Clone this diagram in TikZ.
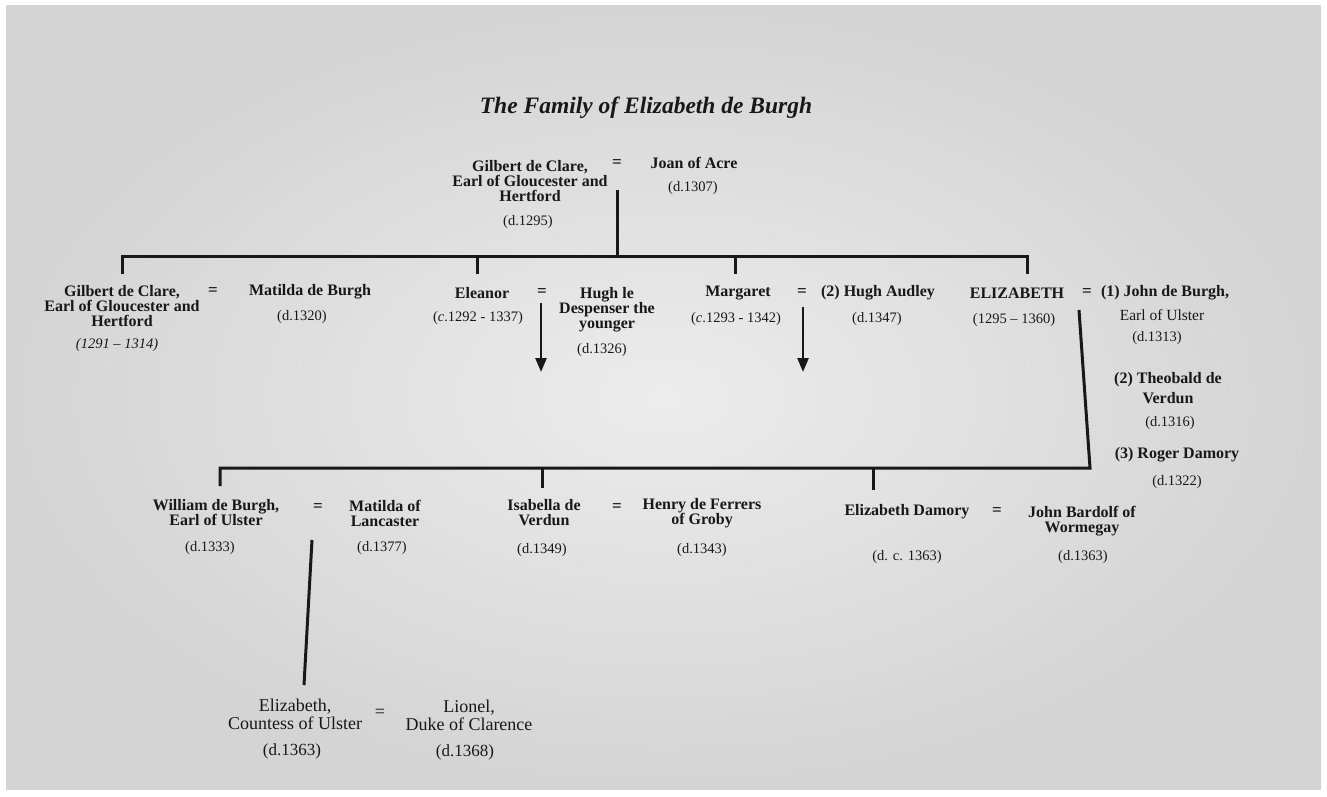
\documentclass[tikz,border=0pt]{standalone}
\usepackage{fontspec}
\setmainfont{Liberation Serif}
\usetikzlibrary{arrows.meta}
\definecolor{ink}{RGB}{24,24,24}
\definecolor{pagelight}{RGB}{236,236,236}
\definecolor{pagedark}{RGB}{212,212,212}
\begin{document}
\begin{tikzpicture}[x=1pt,y=-1pt,
  every node/.style={inner sep=0pt,text=ink,align=center},
  ttl/.style={font=\bfseries\itshape\fontsize{23.5}{23.5}\selectfont},
  nm/.style={font=\bfseries\fontsize{16}{15}\selectfont},
  sub/.style={font=\fontsize{15.5}{15}\selectfont},
  dt/.style={font=\fontsize{14.5}{15}\selectfont},
  eqs/.style={font=\bfseries\fontsize{17}{17}\selectfont},
  big/.style={font=\fontsize{18}{18}\selectfont},
  bigdt/.style={font=\fontsize{17}{17}\selectfont},
  ln/.style={draw=ink,line width=3pt},
  arr/.style={draw=ink,line width=2.6pt,-{Triangle[width=11pt,length=14pt]}}
]
\useasboundingbox (0,0) rectangle (1327,796);
\fill[white] (0,0) rectangle (1327,796);
\shade[inner color=pagelight,outer color=pagedark] (6,5) rectangle (1321,789);

% title
\node[ttl] (title) at (646,108) {The Family of Elizabeth de Burgh};

% generation 1
\node[nm] (gilbertA) at (530,181) {Gilbert de Clare,\\Earl of Gloucester and\\Hertford};
\node[dt] (gilbertAd) at (528,222) {(d.1295)};
\node[eqs] (eqA) at (617,164) {=};
\node[nm] (joan) at (694,163) {Joan of Acre};
\node[dt] (joand) at (693,188) {(d.1307)};

% generation 2
\node[nm] (gilbertB) at (122,306) {Gilbert de Clare,\\Earl of Gloucester and\\Hertford};
\node[dt] (gilbertBd) at (117,345) {\itshape (1291 – 1314)};
\node[eqs] (eqB) at (213,292) {=};
\node[nm] (matildaB) at (310,292) {Matilda de Burgh};
\node[dt] (matildaBd) at (302,317) {(d.1320)};

\node[nm] (eleanor) at (482,293) {Eleanor};
\node[dt] (eleanord) at (478,318) {(\textit{c}.1292 - 1337)};
\node[eqs] (eqC) at (542,293) {=};
\node[nm] (hugh) at (607,310) {Hugh le\\Despenser the\\younger};
\node[dt] (hughd) at (602,350) {(d.1326)};

\node[nm] (margaret) at (738,293) {Margaret};
\node[dt] (margaretd) at (736,319) {(\textit{c}.1293 - 1342)};
\node[eqs] (eqD) at (802,293) {=};
\node[nm] (audley) at (878,293) {(2) Hugh Audley};
\node[dt] (audleyd) at (877,319) {(d.1347)};

\node[nm] (eliz) at (1017,293) {ELIZABETH};
\node[dt] (elizd) at (1014,320) {(1295 – 1360)};
\node[eqs] (eqE) at (1087,293) {=};
\node[nm] (john) at (1165,293) {(1) John de Burgh,};
\node[sub] (johnt) at (1162,315) {Earl of Ulster};
\node[dt] (johnd) at (1157,338) {(d.1313)};
\node[nm] (theobald) at (1168,388) {(2) Theobald de\\[5pt]Verdun};
\node[dt] (theobaldd) at (1170,423) {(d.1316)};
\node[nm] (roger) at (1177,455) {(3) Roger Damory};
\node[dt] (rogerd) at (1177,482) {(d.1322)};

% generation 3
\node[nm] (william) at (216,513) {William de Burgh,\\Earl of Ulster};
\node[dt] (williamd) at (210,548) {(d.1333)};
\node[eqs] (eqF) at (318,508) {=};
\node[nm] (matildaL) at (385,513) {Matilda of\\Lancaster};
\node[dt] (matildaLd) at (382,548) {(d.1377)};

\node[nm] (isabella) at (544,513) {Isabella de\\Verdun};
\node[dt] (isabellad) at (542,550) {(d.1349)};
\node[eqs] (eqG) at (617,508) {=};
\node[nm] (henry) at (702,513) {Henry de Ferrers\\of Groby};
\node[dt] (henryd) at (702,550) {(d.1343)};

\node[nm] (edamory) at (907,512) {Elizabeth Damory};
\node[dt] (edamoryd) at (907,557) {(d. c. 1363)};
\node[eqs] (eqH) at (997,512) {=};
\node[nm] (bardolf) at (1082,521) {John Bardolf of\\Wormegay};
\node[dt] (bardolfd) at (1083,557) {(d.1363)};

% generation 4
\node[big] (countess) at (295,714) {Elizabeth,\\Countess of Ulster};
\node[bigdt] (countessd) at (292,751) {(d.1363)};
\node[big] (eqI) at (380,713) {=};
\node[big] (lionel) at (469,715) {Lionel,\\Duke of Clarence};
\node[bigdt] (lioneld) at (465,752) {(d.1368)};

% connector coordinates
\coordinate (topdrop) at (617,190);
\coordinate (bar1) at (617,256);
\coordinate (k1) at (122,274);
\coordinate (k2) at (477,274);
\coordinate (k3) at (735,274);
\coordinate (k4) at (1027,274);

\coordinate (elizdrop) at (1079,310);
\coordinate (bar2) at (1090,468);
\coordinate (s1) at (220,486);
\coordinate (s2) at (542,488);
\coordinate (s3) at (873,490);

\coordinate (a1s) at (541,303);
\coordinate (a1e) at (541,372);
\coordinate (a2s) at (803,307);
\coordinate (a2e) at (803,372);

\coordinate (wtop) at (312,540);
\coordinate (wbot) at (304,685);

% connectors
\draw[ln] (topdrop) -- (bar1);
\draw[ln] (k1) |- (bar1) -| (k4);
\draw[ln] (k2) -- (k2 |- bar1);
\draw[ln] (k3) -- (k3 |- bar1);

\draw[ln] (elizdrop) -- (bar2) -| (s1);
\draw[ln] (s2) -- (s2 |- bar2);
\draw[ln] (s3) -- (s3 |- bar2);

\draw[arr] (a1s) -- (a1e);
\draw[arr] (a2s) -- (a2e);

\draw[ln] (wtop) -- (wbot);
\end{tikzpicture}
\end{document}
